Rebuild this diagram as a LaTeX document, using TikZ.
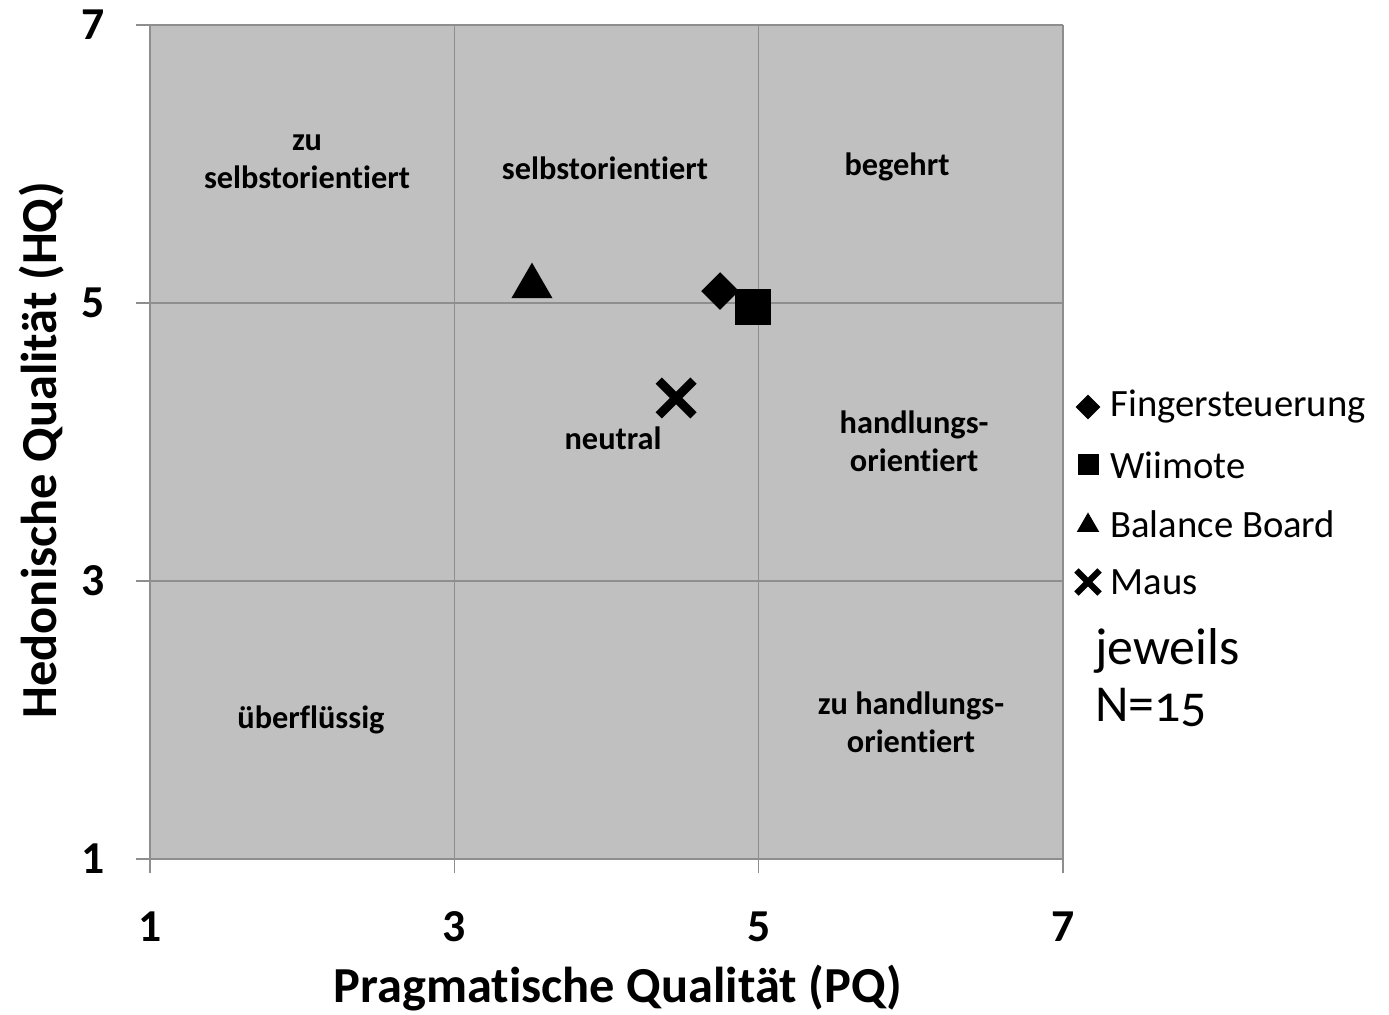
\documentclass[tikz,border=0pt]{standalone}
\usepackage{fontspec}
\setmainfont{Carlito}[Ligatures=NoCommon]
\usepackage{tikz}
\usetikzlibrary{shapes.geometric}
\usetikzlibrary{shapes.misc}

\definecolor{feld}{HTML}{C0C0C0}
\definecolor{gitter}{HTML}{8E8E8E}

\tikzset{
  bereich/.style={align=center,font=\bfseries\fontsize{18.4}{21.6}\selectfont},
  skala/.style={font=\bfseries\fontsize{26}{29}\selectfont},
  titel/.style={font=\bfseries\fontsize{28.7}{33}\selectfont},
  legtext/.style={anchor=west,inner sep=0pt,font=\fontsize{22}{25}\selectfont},
  raute/.style={diamond,fill=black,inner sep=0pt,minimum width=#1,minimum height=#1},
  quadrat/.style={rectangle,fill=black,inner sep=0pt,minimum size=#1},
  dreieck/.style={regular polygon,regular polygon sides=3,fill=black,inner sep=0pt,minimum size=#1},
  kreuz/.style={cross out,draw=black,line width=#1,inner sep=0pt}
}

\begin{document}
\begin{tikzpicture}[x=3.0433cm,y=2.78cm]
\useasboundingbox (0.0143,-0.115) rectangle (9.142,7.180);
% Feld und Gitter
\fill[feld] (1,1) rectangle (7,7);
\foreach \v in {3,5,7}{
  \draw[gitter,line width=0.9pt] (\v,1) -- (\v,7);
  \draw[gitter,line width=0.9pt] (1,\v) -- (7,\v);
}
\draw[gitter,line width=0.9pt] (1,7) -- (1,1) -- (7,1);
% Achsenbeschriftung
\foreach \v in {1,3,5,7}{
  \draw[gitter,line width=0.9pt] (0.908,\v) -- (1,\v);
  \draw[gitter,line width=0.9pt] (\v,1) -- (\v,0.9);
  \node[skala,anchor=east] (y\v) at (0.745,\v) {\v};
  \node[skala] (x\v) at (\v,0.511) {\v};
}
\node[titel] (pq) at (4.075,0.07) {Pragmatische Qualität (PQ)};
\node[titel,rotate=90] (hq) at (0.29,3.94) {Hedonische Qualität (HQ)};
% Bereiche
\node[bereich] (zuselbst) at (2.032,6.014) {zu\\selbstorientiert};
\node[bereich] (selbst) at (3.99,5.97) {selbstorientiert};
\node[bereich] (begehrt) at (5.909,5.978) {begehrt};
\node[bereich] (neutral) at (4.043,4.029) {neutral};
\node[bereich] (handlung) at (6.021,4.007) {handlungs-\\orientiert};
\node[bereich] (ueber) at (2.058,2.0) {überflüssig};
\node[bereich] (zuhandlung) at (6.001,1.986) {zu handlungs-\\orientiert};
% Messwerte
\node[dreieck=0.95cm] (balance) at (3.51,5.12) {};
\node[raute=0.76cm] (finger) at (4.746,5.086) {};
\node[quadrat=0.72cm] (wii) at (4.963,4.97) {};
\node[kreuz=5pt,minimum size=0.52cm] (maus) at (4.457,4.317) {};
% Legende
\node[raute=0.5cm] (lfinger) at (7.164,4.252) {};
\node[quadrat=0.42cm] (lwii) at (7.164,3.835) {};
\node[dreieck=0.52cm] (lbalance) at (7.164,3.40) {};
\node[kreuz=3.5pt,minimum size=0.34cm] (lmaus) at (7.164,2.993) {};
\node[legtext] (tfinger) at (7.309,4.252) {Fingersteuerung};
\node[legtext] (twii) at (7.309,3.835) {Wiimote};
\node[legtext] (tbalance) at (7.309,3.41) {Balance Board};
\node[legtext] (tmaus) at (7.309,2.993) {Maus};
\node[anchor=north west,inner sep=0pt,align=left,font=\fontsize{29.5}{32.4}\selectfont] (anzahl) at (7.21,2.66) {jeweils\\N={\addfontfeature{Numbers=OldStyle}15}};
\end{tikzpicture}
\end{document}
